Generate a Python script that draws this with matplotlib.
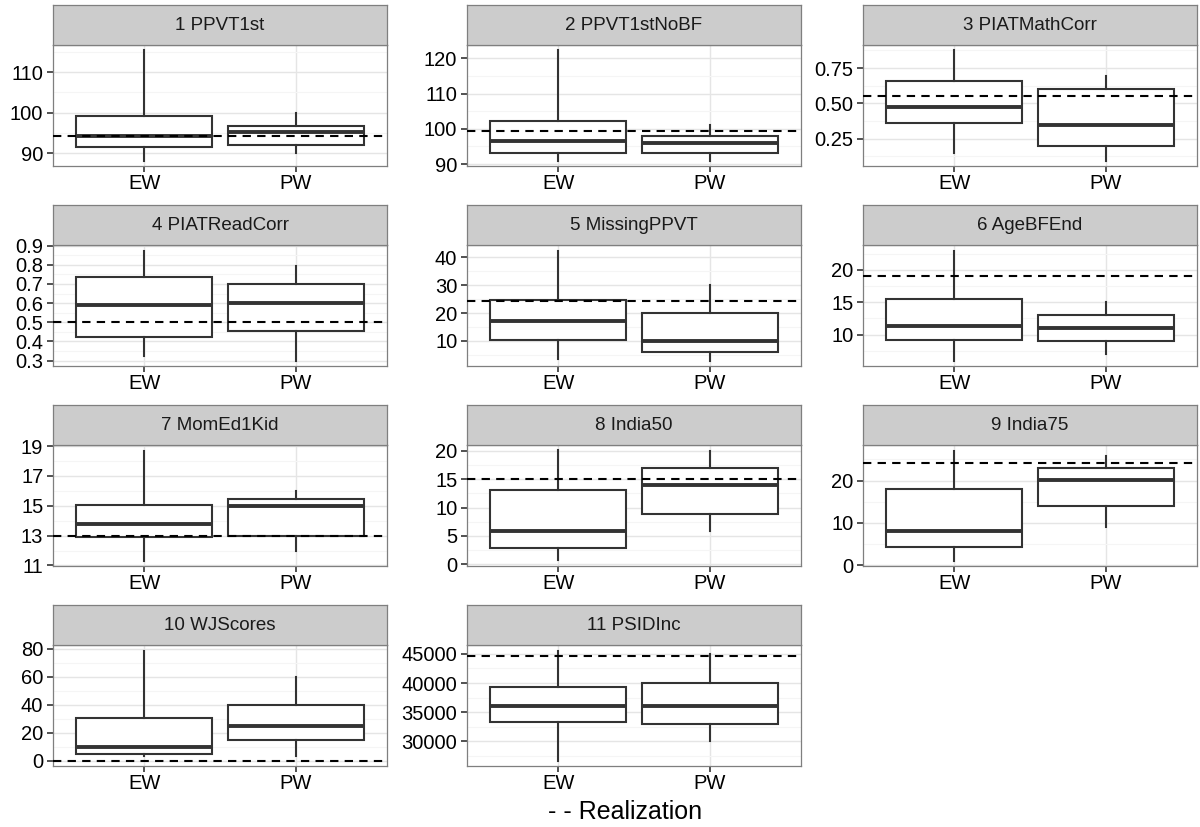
import matplotlib
matplotlib.use("Agg")
import matplotlib.pyplot as plt
import numpy as np

plt.rcParams['font.family'] = ['Liberation Sans', 'DejaVu Sans']

# panel titles
titles = ["1 PPVT1st", "2 PPVT1stNoBF", "3 PIATMathCorr", "4 PIATReadCorr",
          "5 MissingPPVT", "6 AgeBFEnd", "7 MomEd1Kid", "8 India50",
          "9 India75", "10 WJScores", "11 PSIDInc"]
groups = ["EW", "PW"]

# box stats: (whisker low, q1, median, q3, whisker high)
ew_box = [(88.2, 91.6, 94.3, 99.1, 115.3),
          (91.0, 93.2, 96.4, 102.2, 122.2),
          (0.15, 0.361, 0.476, 0.659, 0.875),
          (0.322, 0.424, 0.59, 0.737, 0.875),
          (3.6, 10.4, 17.0, 24.5, 42.4),
          (6.0, 9.1, 11.4, 15.5, 23.0),
          (11.33, 12.89, 13.78, 15.07, 18.7),
          (0.65, 2.8, 5.8, 13.1, 20.06),
          (1.1, 4.4, 8.0, 17.95, 27.1),
          (3.3, 5.0, 10.2, 30.8, 78.6),
          (26720, 33390, 36090, 39310, 45575)]
pw_box = [(90.1, 92.0, 95.2, 96.8, 99.9),
          (91.0, 93.2, 96.1, 98.0, 101.1),
          (0.095, 0.20, 0.349, 0.60, 0.697),
          (0.30, 0.452, 0.60, 0.70, 0.796),
          (3.0, 6.0, 10.0, 19.9, 30.1),
          (7.0, 9.0, 11.0, 13.0, 15.0),
          (12.0, 13.0, 15.0, 15.47, 16.0),
          (5.9, 8.9, 13.9, 16.9, 19.9),
          (9.1, 13.9, 20.1, 22.9, 25.9),
          (3.3, 14.9, 25.1, 40.0, 60.0),
          (30000, 33000, 36030, 40000, 44900)]

# realization (dashed line)
realization = [94.3, 99.3, 0.553, 0.50, 24.3, 19.0, 12.96, 15.0, 24.2, 0.3, 44655]

yticks = [[90, 100, 110], [90, 100, 110, 120], [0.25, 0.50, 0.75],
          [0.3, 0.4, 0.5, 0.6, 0.7, 0.8, 0.9], [10, 20, 30, 40], [10, 15, 20],
          [11, 13, 15, 17, 19], [0, 5, 10, 15, 20], [0, 10, 20],
          [0, 20, 40, 60, 80], [30000, 35000, 40000, 45000]]
ytick_labels = [["90", "100", "110"], ["90", "100", "110", "120"],
                ["0.25", "0.50", "0.75"],
                ["0.3", "0.4", "0.5", "0.6", "0.7", "0.8", "0.9"],
                ["10", "20", "30", "40"], ["10", "15", "20"],
                ["11", "13", "15", "17", "19"], ["0", "5", "10", "15", "20"],
                ["0", "10", "20"], ["0", "20", "40", "60", "80"],
                ["30000", "35000", "40000", "45000"]]

W, H = 1200, 827
fig = plt.figure(figsize=(W / 100, H / 100), dpi=100)

col_left = [53, 467, 863]
pw_w = 334
plot_h = 121
strip_h = 40

dark = "#333333"
border = "#7f7f7f"

for i, title in enumerate(titles):
    r, c = divmod(i, 3)
    top = 45 + 200 * r
    left = col_left[c]
    ax = fig.add_axes([left / W, (H - top - plot_h) / H, pw_w / W, plot_h / H])
    sax = fig.add_axes([left / W, (H - top) / H, pw_w / W, strip_h / H])

    stats = []
    for b, g in zip((ew_box[i], pw_box[i]), groups):
        stats.append(dict(whislo=b[0], q1=b[1], med=b[2], q3=b[3], whishi=b[4], label=g))
    ax.bxp(stats, positions=[1, 2], widths=0.9, showcaps=False, showfliers=False,
           patch_artist=True,
           boxprops=dict(facecolor="white", edgecolor=dark, linewidth=1.5),
           whiskerprops=dict(color=dark, linewidth=1.5),
           medianprops=dict(color=dark, linewidth=2.8, solid_capstyle="butt"),
           zorder=3)
    ax.axhline(realization[i], color="black", linewidth=1.5,
               linestyle=(0, (4, 3)), zorder=4)

    vals = [v for b in (ew_box[i], pw_box[i]) for v in (b[0], b[4])] + [realization[i]]
    lo, hi = min(vals), max(vals)
    pad = (hi - lo) * 0.05
    ax.set_ylim(lo - pad, hi + pad)
    ax.set_xlim(0.4, 2.6)

    t = yticks[i]
    step = t[1] - t[0]
    minors = [t[0] - step / 2] + [a + step / 2 for a in t]
    minors = [m for m in minors if lo - pad <= m <= hi + pad]
    ax.set_yticks(t)
    ax.set_yticklabels(ytick_labels[i])
    ax.set_yticks(minors, minor=True)
    ax.set_xticks([1, 2])
    ax.set_xticklabels(groups)

    ax.grid(True, which="major", color="#e5e5e5", linewidth=1.0, zorder=0)
    ax.grid(True, which="minor", axis="y", color="#f5f5f5", linewidth=0.8, zorder=0)
    ax.set_axisbelow(True)
    ax.tick_params(axis="both", which="major", labelsize=14.5, color=dark,
                   length=4, width=1.2, pad=3, labelcolor="black")
    ax.tick_params(axis="x", which="major", pad=2)
    ax.tick_params(axis="y", which="minor", length=0)
    for s in ax.spines.values():
        s.set_color(border)
        s.set_linewidth(0.9)

    sax.set_facecolor("#cccccc")
    sax.set_xticks([])
    sax.set_yticks([])
    for s in sax.spines.values():
        s.set_color(border)
        s.set_linewidth(0.9)
    sax.text(0.5, 0.5, title, ha="center", va="center", fontsize=13.5,
             color="#1a1a1a", transform=sax.transAxes)

fig.text(625 / W, 1 - 812 / H, "- - Realization", ha="center", va="center",
         fontsize=18, color="black")

fig.savefig("out.png", dpi=100, facecolor="white")
